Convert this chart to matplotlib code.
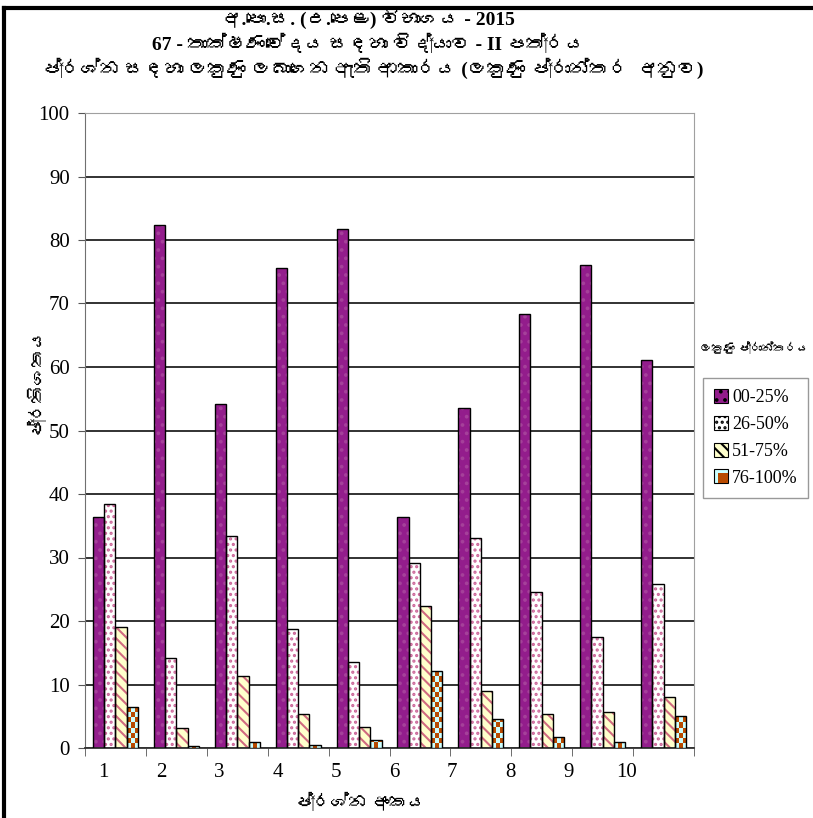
import numpy as np
import matplotlib
matplotlib.use('Agg')
import matplotlib.pyplot as plt
from matplotlib import font_manager
from matplotlib.ft2font import FT2Font
from matplotlib.colors import ListedColormap
from matplotlib.patches import Patch, Rectangle
from matplotlib.legend_handler import HandlerBase
from matplotlib.lines import Line2D

# question numbers and % of candidates in each mark band
questions = ['1', '2', '3', '4', '5', '6', '7', '8', '9', '10']
bands = ['00-25%', '26-50%', '51-75%', '76-100%']
b00_25 = [36.3, 82.3, 54.2, 75.6, 81.8, 36.3, 53.5, 68.3, 76.0, 61.1]
b26_50 = [38.4, 14.1, 33.4, 18.7, 13.6, 29.1, 33.0, 24.6, 17.5, 25.8]
b51_75 = [19.1, 3.2, 11.4, 5.3, 3.3, 22.4, 9.0, 5.3, 5.6, 8.1]
b76_100 = [6.4, 0.3, 0.9, 0.4, 1.3, 12.2, 4.5, 1.8, 0.9, 5.0]

title1 = 'අ.පො.ස. (උ.පෙළ) විභාගය - 2015'
title2 = '67 - තාක්ෂණවේදය සඳහා විද්‍යාව - II පත්‍රය'
title3 = 'ප්‍රශ්න සඳහා ලකුණු ලබාගෙන ඇති ආකාරය (ලකුණු ප්‍රාන්තර  අනුව)'
ylab = 'ප්‍රතිශතය'
xlab = 'ප්‍රශ්න අංකය'
leg_title = 'ලකුණු ප්‍රාන්තරය'


# find an installed font that has Sinhala glyphs
def sinhala_family():
    for f in font_manager.fontManager.ttflist:
        try:
            if ord('ක') in FT2Font(f.fname).get_charmap():
                return f.name
        except Exception:
            pass
    return None


sinh = sinhala_family()
fam = ['Liberation Serif', sinh] if sinh else ['Liberation Serif', 'DejaVu Sans']
plt.rcParams['font.family'] = fam
plt.rcParams['hatch.linewidth'] = 1.5

fig = plt.figure(figsize=(8.13, 8.18), dpi=100)
ax = fig.add_axes([85/813, 1-748/818, (694-85)/813, (748-113)/818])

x = np.arange(1, len(questions)+1)
w = 0.185

purple = '#931D8C'
styles = [
    dict(fc=purple, hc='#A5409A', hatch='..'),
    dict(fc='white', hc='#CC6699', hatch='...'),
    dict(fc='#FFFFCC', hc='#D06A80', hatch='\\\\\\'),
    dict(fc='#CCFFFF', hc='#B84A00', hatch=None),
]
series = [b00_25, b26_50, b51_75, b76_100]

check_cmap = ListedColormap(['#CCFFFF', '#B84A00'])
for k, (vals, st) in enumerate(zip(series, styles)):
    xs = x + (k - 1.5) * w
    ax.bar(xs, vals, w, color=st['fc'], edgecolor=st['hc'], hatch=st['hatch'],
           linewidth=0, zorder=2)
    outl = ax.bar(xs, vals, w, fill=False, edgecolor='black', linewidth=1.0, zorder=4)
    if st['hatch'] is None:
        # checkerboard fill clipped to each bar
        for r in outl:
            h = r.get_height()
            nr = max(1, int(np.ceil(h / 0.8)))
            board = np.add.outer(np.arange(nr), np.arange(3)) % 2
            im = ax.imshow(board, cmap=check_cmap, extent=(r.get_x(), r.get_x()+r.get_width(), 0, nr*0.8),
                           origin='lower', aspect='auto', interpolation='nearest', zorder=3)
            im.set_clip_path(r)

ax.set_xlim(0.5, 10.5)
ax.set_ylim(0, 100)
ax.set_yticks(np.arange(0, 101, 10))
ax.yaxis.grid(True, color='#222222', linewidth=1.3, zorder=1)
ax.set_axisbelow(True)
ax.tick_params(axis='y', labelsize=15, length=5, color='#555555', pad=6)

# category boundaries carry the tick marks, labels sit a bit to the left
ax.set_xticks(np.arange(0.5, 11, 1), minor=True)
ax.set_xticks(0.8 + 0.955 * (x - 1))
ax.set_xticklabels(questions)
ax.tick_params(axis='x', which='major', length=0, labelsize=15, pad=11)
ax.tick_params(axis='x', which='minor', length=6, color='#555555')

for s in ['top', 'right']:
    ax.spines[s].set_color('#A0A0A0')
ax.spines['left'].set_color('#707070')
ax.spines['bottom'].set_color('#333333')
ax.spines['bottom'].set_linewidth(1.3)

tkw = dict(ha='center', va='center', fontweight='bold', family=fam)
fig.text(0.453, 1-18/818, title1, fontsize=14, **tkw)
fig.text(0.453, 1-44/818, title2, fontsize=14, **tkw)
fig.text(0.458, 1-68/818, title3, fontsize=14, **tkw)
fig.text(35/813, 1-380/818, ylab, rotation=90, fontsize=13, **tkw)
fig.text(360/813, 1-802/818, xlab, fontsize=13, **tkw)
fig.text(754/813, 1-349/818, leg_title, fontsize=8.5, **tkw)


class CheckHandler(HandlerBase):
    def create_artists(self, legend, orig, xd, yd, wd, ht, fontsize, trans):
        a = Rectangle((xd, yd), wd, ht, fc='#CCFFFF', ec='black', lw=0.8, transform=trans)
        b = Rectangle((xd + wd*0.3, yd), wd*0.7, ht*0.7, fc='#B84A00', lw=0, transform=trans)
        return [a, b]


handles = [Patch(fc=st['fc'], ec='black', lw=0.8, hatch=st['hatch']) for st in styles[:3]]
handles.append(Patch(fc='#CCFFFF', ec='black'))
leg = fig.legend(handles, bands, loc='upper left', bbox_to_anchor=(703/813, 1-378/818),
                 fontsize=13, frameon=True, fancybox=False, edgecolor='#808080',
                 handlelength=0.8, handleheight=0.8, handletextpad=0.2,
                 labelspacing=0.55, borderpad=0.6, borderaxespad=0,
                 handler_map={handles[3]: CheckHandler()})
leg.get_frame().set_linewidth(1.0)

# outer frame of the page
fig.add_artist(Line2D([4/813, 1], [1-8/818, 1-8/818], color='black', lw=3, transform=fig.transFigure))
fig.add_artist(Line2D([4/813, 4/813], [0, 1-8/818], color='black', lw=3, transform=fig.transFigure))

fig.savefig('out.png', dpi=100)
